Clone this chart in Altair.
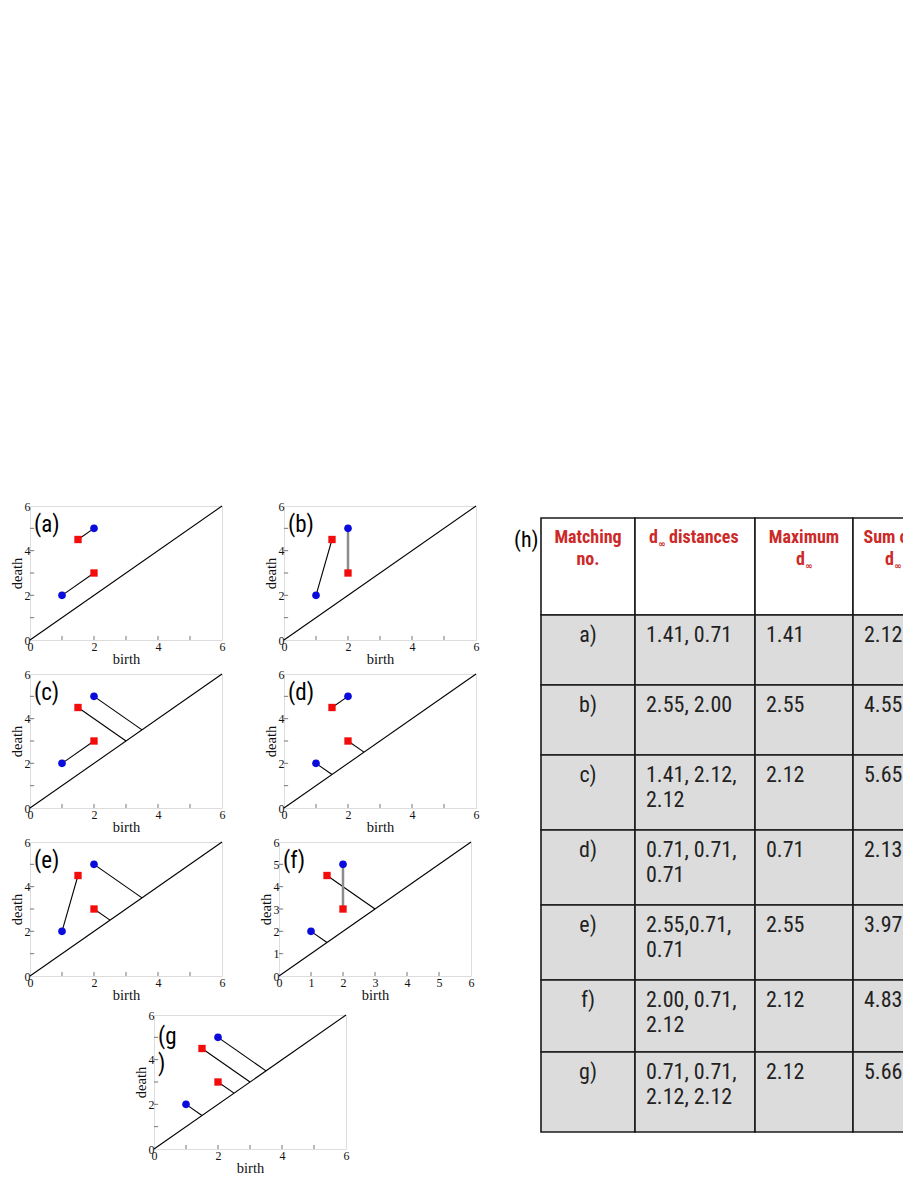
import altair as alt
import pandas as pd

# ---------------- data ----------------
# persistence-diagram points (birth, death)
blue_ids = ["B1", "B2"]
blue_birth = [1.0, 2.0]
blue_death = [2.0, 5.0]
red_ids = ["R1", "R2"]
red_birth = [1.5, 2.0]
red_death = [4.5, 3.0]

# matchings shown in each panel ("D" = projection onto the diagonal)
matching_a = [("B1", "R2"), ("R1", "B2")]
matching_b = [("B1", "R1"), ("B2", "R2")]
matching_c = [("B1", "R2"), ("R1", "D"), ("B2", "D")]
matching_d = [("R1", "B2"), ("B1", "D"), ("R2", "D")]
matching_e = [("B1", "R1"), ("B2", "D"), ("R2", "D")]
matching_f = [("B2", "R2"), ("R1", "D"), ("B1", "D")]
matching_g = [("B1", "D"), ("R2", "D"), ("R1", "D"), ("B2", "D")]

# table (h)
header_main = ["Matching\nno.", "distances", "Maximum", "Sum of"]
header_d = ["", "d", "d", "d"]
header_inf = ["", "∞", "∞", "∞"]
matching_no = ["a)", "b)", "c)", "d)", "e)", "f)", "g)"]
distances = ["1.41, 0.71", "2.55, 2.00", "1.41, 2.12,\n2.12", "0.71, 0.71,\n0.71",
             "2.55,0.71,\n0.71", "2.00, 0.71,\n2.12", "0.71, 0.71,\n2.12, 2.12"]
max_d = ["1.41", "2.55", "2.12", "0.71", "2.55", "2.12", "2.12"]
sum_d = ["2.12", "4.55", "5.65", "2.13", "3.97", "4.83", "5.66"]

# ---------------- style / layout ----------------
NARROW = "Liberation Sans Narrow, Arial Narrow, Roboto Condensed, Roboto, sans-serif"
SERIF = "Liberation Serif, Times New Roman, serif"
BLUE = "#0b0bdc"
RED = "#f20c0c"
HEAD_RED = "#cc2929"
FRAME = "#7a7a7a"
PW, PH = 192, 134

pts = {}
for i, b, d in zip(blue_ids, blue_birth, blue_death):
    pts[i] = (b, d)
for i, b, d in zip(red_ids, red_birth, red_death):
    pts[i] = (b, d)


def seg_frame(matching):
    rows = []
    for p, q in matching:
        if q == "D":
            b, d = pts[p]
            m = (b + d) / 2
            x0, y0, x1, y1 = b, d, m, m
        else:
            (x0, y0), (x1, y1) = pts[p], pts[q]
        rows.append({"x": x0, "y": y0, "x2": x1, "y2": y1, "vert": x0 == x1})
    return pd.DataFrame(rows)


blue_df = pd.DataFrame({"x": blue_birth, "y": blue_death})
red_df = pd.DataFrame({"x": red_birth, "y": red_death})
DOM = [0, 6]
diag_df = pd.DataFrame({"x": DOM, "y": DOM})


def panel(matching, label, step):
    ticks = list(range(DOM[0], DOM[1] + 1, step))
    common = dict(grid=False, ticks=False, domain=False, labelFlush=False, labelOverlap=False,
                  labelFont=SERIF, labelFontSize=12, labelColor="#111",
                  titleFont=SERIF, titleFontSize=14.5, titleFontWeight="normal", titleColor="#111")
    sx = alt.Scale(domain=DOM, nice=False, zero=False)
    sy = alt.Scale(domain=DOM, nice=False, zero=False)
    X = alt.X("x:Q", scale=sx, axis=alt.Axis(values=ticks, title="birth", labelPadding=1, titlePadding=0, **common))
    Y = alt.Y("y:Q", scale=sy, axis=alt.Axis(values=ticks, title="death", labelPadding=0, titlePadding=0, **common))

    inner = [t for t in range(DOM[0] + 1, DOM[1])]
    bt = pd.DataFrame({"x": inner, "y": [0] * len(inner), "y2": [0.18] * len(inner)})
    lt = pd.DataFrame({"y": inner, "x": [0] * len(inner), "x2": [0.13] * len(inner)})

    diag = alt.Chart(diag_df).mark_line(color="black", strokeWidth=1.1).encode(x=X, y=Y)
    bticks = alt.Chart(bt).mark_rule(color="#777", strokeWidth=1).encode(x=X, y=Y, y2="y2")
    lticks = alt.Chart(lt).mark_rule(color="#777", strokeWidth=1).encode(x=X, x2="x2", y=Y)
    sdf = seg_frame(matching)
    segs = alt.Chart(sdf).transform_filter("!datum.vert").mark_rule(color="black", strokeWidth=1.1).encode(
        x=X, y=Y, x2="x2", y2="y2")
    vsegs = alt.Chart(sdf).transform_filter("datum.vert").mark_rule(color="#8c8c8c", strokeWidth=2.5).encode(
        x=X, y=Y, x2="x2", y2="y2")
    blue = alt.Chart(blue_df).mark_circle(size=58, color=BLUE, opacity=1).encode(x=X, y=Y)
    red = alt.Chart(red_df).mark_square(size=54, color=RED, opacity=1).encode(x=X, y=Y)
    if isinstance(label, list):
        lab = alt.Chart(pd.DataFrame({"k": [0]})).mark_text(
            text=label, align="left", baseline="top", font=NARROW, fontSize=23, lineHeight=27, color="black"
        ).encode(x=alt.value(4), y=alt.value(11))
    else:
        lab = alt.Chart(pd.DataFrame({"k": [0]})).mark_text(
            text=label, align="left", baseline="middle", font=NARROW, fontSize=23, color="black"
        ).encode(x=alt.value(4), y=alt.value(19))
    return alt.layer(diag, bticks, lticks, segs, vsegs, blue, red, lab).properties(width=PW, height=PH)


pa = panel(matching_a, "(a)", 2)
pb = panel(matching_b, "(b)", 2)
pc = panel(matching_c, "(c)", 2)
pd_ = panel(matching_d, "(d)", 2)
pe = panel(matching_e, "(e)", 2)
pf = panel(matching_f, "(f)", 1)
pg = panel(matching_g, ["(g", ")"], 2)

spacer = alt.Chart(pd.DataFrame({"k": [0]})).mark_point(opacity=0).encode(
    x=alt.value(0), y=alt.value(0)).properties(width=102, height=10,
                                                view=alt.ViewBackground(stroke="transparent", strokeWidth=0))

row1 = alt.hconcat(pa, pb, spacing=36)
row2 = alt.hconcat(pc, pd_, spacing=36)
row3 = alt.hconcat(pe, pf, spacing=31)
row4 = alt.hconcat(spacer, pg, spacing=0)
top3 = alt.vconcat(row1, row2, row3, spacing=1)
left = alt.vconcat(top3, row4, spacing=6)

# ---------------- table ----------------
TX0, TX1 = 490, 903
TY0, TY1 = 507, 1147
tab_left, tab_top = 541, 519
col_widths = [94, 120, 98, 80]
header_h = 97
row_heights = [70, 70, 75, 75, 75, 72, 80]

col_edges = [tab_left]
for w in col_widths:
    col_edges.append(col_edges[-1] + w)
row_edges = [tab_top, tab_top + header_h]
for h in row_heights:
    row_edges.append(row_edges[-1] + h)

cells = []
for r in range(len(row_edges) - 1):
    for c in range(len(col_widths)):
        cells.append({"x": col_edges[c], "x2": col_edges[c + 1], "y": row_edges[r], "y2": row_edges[r + 1],
                      "fill": "#ffffff" if r == 0 else "#dcdcdc"})
cells_df = pd.DataFrame(cells)

# header pieces: main text, the "d" and a small subscript infinity
LINE1 = tab_top + 11
LINE2 = LINE1 + 22
head_main = pd.DataFrame({
    "x": [(col_edges[0] + col_edges[1]) / 2, col_edges[1] + 34,
          (col_edges[2] + col_edges[3]) / 2, (col_edges[3] + col_edges[4]) / 2 - 4],
    "y": [LINE1] * 4, "t": header_main, "a": ["center", "left", "center", "center"]})
head_d = pd.DataFrame({
    "x": [0, col_edges[1] + 23, col_edges[2] + 50, col_edges[3] + 41],
    "y": [0, LINE1, LINE2, LINE2], "t": header_d}).iloc[1:]
head_inf = pd.DataFrame({
    "x": [0, col_edges[1] + 23, col_edges[2] + 50, col_edges[3] + 41],
    "y": [0, LINE1 + 18, LINE2 + 18, LINE2 + 18], "t": header_inf}).iloc[1:]

body_center = []
body_left = []
columns = [distances, max_d, sum_d]
for r in range(len(matching_no)):
    top = row_edges[r + 1] + 10
    body_center.append({"x": (col_edges[0] + col_edges[1]) / 2, "y": top, "t": matching_no[r]})
    for c, col in enumerate(columns):
        body_left.append({"x": col_edges[c + 1] + 11, "y": top, "t": col[r]})
bc_df = pd.DataFrame(body_center)
bl_df = pd.DataFrame(body_left)

TXS = alt.Scale(domain=[TX0, TX1], nice=False, zero=False)
TYS = alt.Scale(domain=[TY0, TY1], nice=False, zero=False, reverse=True)
tX = alt.X("x:Q", scale=TXS, axis=None)
tY = alt.Y("y:Q", scale=TYS, axis=None)

rects = alt.Chart(cells_df).mark_rect(stroke="#1a1a1a", strokeWidth=1.6, clip=True).encode(
    x=tX, x2="x2", y=tY, y2="y2", fill=alt.Fill("fill:N", scale=None))
hm_center = alt.Chart(head_main).transform_filter("datum.a == 'center'").mark_text(
    align="center", baseline="top", font=NARROW, fontSize=18, fontWeight="bold",
    color=HEAD_RED, lineBreak="\n", lineHeight=22, clip=True).encode(x=tX, y=tY, text="t:N")
hm_left = alt.Chart(head_main).transform_filter("datum.a == 'left'").mark_text(
    align="left", baseline="top", font=NARROW, fontSize=18, fontWeight="bold",
    color=HEAD_RED, clip=True).encode(x=tX, y=tY, text="t:N")
hd = alt.Chart(head_d).mark_text(
    align="right", baseline="top", font=NARROW, fontSize=18, fontWeight="bold",
    color=HEAD_RED, clip=True).encode(x=tX, y=tY, text="t:N")
hinf = alt.Chart(head_inf).mark_text(
    align="left", baseline="alphabetic", font="DejaVu Sans", fontSize=9, fontWeight="bold",
    color=HEAD_RED, clip=True).encode(x=tX, y=tY, text="t:N")
bodyc = alt.Chart(bc_df).mark_text(align="center", baseline="top", font=NARROW, fontSize=22,
                                   color="#222222", lineBreak="\n", lineHeight=25, clip=True).encode(
    x=tX, y=tY, text="t:N")
bodyl = alt.Chart(bl_df).mark_text(align="left", baseline="top", font=NARROW, fontSize=22,
                                   color="#222222", lineBreak="\n", lineHeight=25, clip=True).encode(
    x=tX, y=tY, text="t:N")
hlab = alt.Chart(pd.DataFrame({"x": [514], "y": [541], "t": ["(h)"]})).mark_text(
    align="left", baseline="middle", font=NARROW, fontSize=22, color="black").encode(x=tX, y=tY, text="t:N")

table = alt.layer(rects, hm_center, hm_left, hd, hinf, bodyc, bodyl, hlab).properties(
    width=TX1 - TX0, height=TY1 - TY0, view=alt.ViewBackground(stroke="transparent", strokeWidth=0))

chart = alt.hconcat(left, table, spacing=10).properties(
    padding={"left": 0, "top": 491, "right": 0, "bottom": 0}
).configure_view(stroke=FRAME, strokeWidth=2.5).configure(background="white")

chart.save("out.html", embed_options={"renderer": "svg", "actions": False})
